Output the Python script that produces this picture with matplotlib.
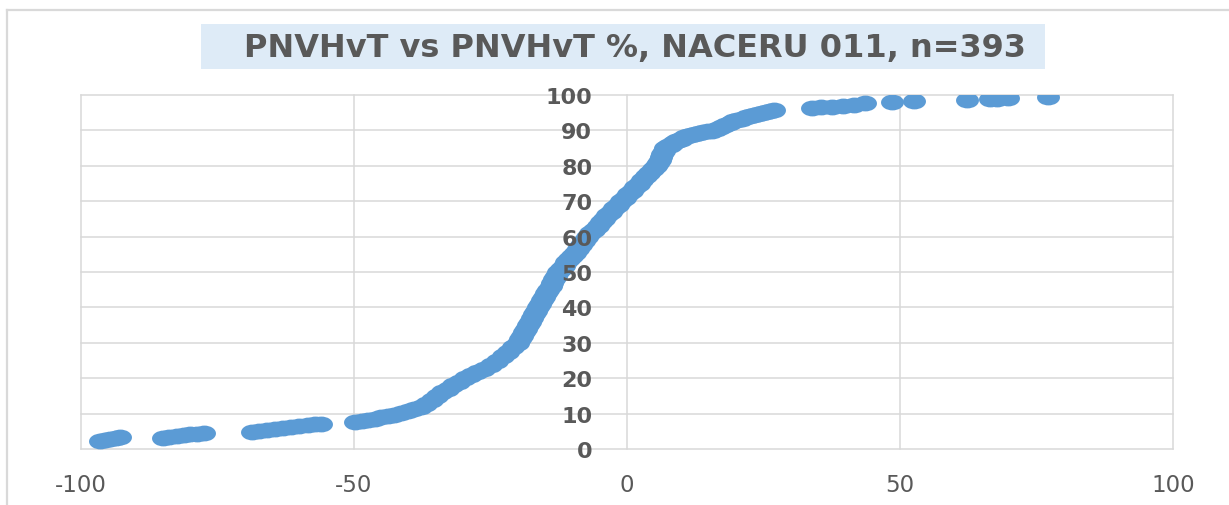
import numpy as np
import matplotlib
matplotlib.use('Agg')
import matplotlib.pyplot as plt
from matplotlib.patches import Rectangle
from matplotlib.lines import Line2D
from matplotlib.path import Path

plt.rcParams['axes.unicode_minus'] = False
plt.rcParams['font.family'] = 'DejaVu Sans'

title = 'PNVHvT vs PNVHvT %, NACERU 011, n=393'
x_ticks = [-100, -50, 0, 50, 100]
y_ticks = [0, 10, 20, 30, 40, 50, 60, 70, 80, 90, 100]

# lower tail
tail_lo_x = [-96.5, -95.6, -94.6, -93.6, -92.8,
             -85.0, -83.8, -82.5, -81.2, -80.0, -78.8, -77.5,
             -68.6, -67.4, -66.0, -64.5, -63.0, -61.5, -60.0, -58.5, -57.2, -56.0]
tail_lo_y = [2.2, 2.5, 2.8, 3.1, 3.3,
             3.1, 3.4, 3.7, 3.9, 4.2, 4.3, 4.4,
             4.8, 5.1, 5.4, 5.6, 5.8, 6.1, 6.4, 6.7, 7.0, 7.2]

# main body of the curve
body_x = [-49.8, -48.6, -47.4, -46.2, -45.0, -43.8, -42.6, -41.4, -40.2, -39.0,
          -37.8, -36.8, -35.8, -34.8, -33.8, -32.8, -31.8, -30.8, -29.7, -28.6,
          -27.4, -26.2, -25.0, -23.8, -22.8, -21.8, -20.8,
          -20.0, -19.6, -19.3, -18.9, -18.5, -18.2, -17.8, -17.4, -17.0, -16.7,
          -16.3, -15.9, -15.6, -15.2, -14.8, -14.4, -14.0, -13.7, -13.3, -13.0,
          -12.6, -12.1, -11.6, -11.1, -10.6, -10.0, -9.5, -8.9, -8.4, -7.8,
          -7.3, -6.7, -6.1, -5.4, -4.8, -4.2, -3.6, -3.0, -2.4, -1.7,
          -1.1, -0.4, 0.2, 0.9, 1.5, 2.2, 2.8, 3.5, 4.1, 4.8,
          5.4, 5.7, 6.0, 6.2, 6.5, 6.8, 7.0, 7.5, 8.0, 8.5,
          9.0, 9.5, 10.0, 10.5, 11.0, 11.7, 12.5, 13.2, 14.0, 14.8,
          15.5, 16.5, 17.2, 18.0, 18.8, 19.5, 20.2, 21.0, 21.8, 22.5,
          23.2, 24.0, 24.8, 25.5, 26.2, 27.0]
body_y = [7.6, 7.9, 8.2, 8.6, 9.0, 9.4, 9.7, 10.1, 10.6, 11.2,
          11.9, 12.7, 13.8, 15.0, 16.0, 17.0, 18.0, 19.0, 20.0, 20.9,
          21.7, 22.6, 23.8, 25.0, 26.2, 27.5, 28.8,
          30.0, 31.0, 32.0, 33.0, 34.0, 35.0, 36.0, 37.0, 38.0, 39.0,
          40.0, 41.0, 42.0, 43.0, 44.0, 45.0, 46.0, 47.0, 48.0, 49.0,
          50.0, 50.9, 51.8, 52.7, 53.6, 54.5, 55.4, 56.4, 57.5, 58.7,
          60.0, 61.0, 62.0, 63.0, 64.0, 65.0, 66.0, 67.0, 68.0, 69.0,
          70.0, 71.0, 72.0, 73.0, 74.0, 75.0, 76.0, 77.0, 78.0, 79.0,
          80.0, 80.8, 81.6, 82.4, 83.3, 84.2, 85.0, 85.5, 86.0, 86.5,
          86.9, 87.3, 87.7, 88.1, 88.4, 88.7, 89.0, 89.3, 89.5, 89.7,
          89.9, 90.4, 90.9, 91.4, 92.0, 92.6, 93.0, 93.3, 93.7, 94.0,
          94.3, 94.6, 94.9, 95.2, 95.5, 95.7]

# upper tail
tail_hi_x = [33.9, 35.5, 37.5, 39.5, 41.5, 43.5, 48.5, 52.6, 62.3, 66.5, 67.8, 69.8, 77.1]
tail_hi_y = [96.3, 96.5, 96.6, 96.8, 97.2, 97.7, 98.0, 98.3, 98.6, 98.8, 99.0, 99.1, 99.4]

xs = tail_lo_x + body_x + tail_hi_x
ys = tail_lo_y + body_y + tail_hi_y

# stretched (elliptical) marker like the picture
circ = Path.unit_circle()
ell = Path(circ.vertices * np.array([1.45, 1.0]), circ.codes)

fig = plt.figure(figsize=(12.29, 5.06), dpi=100)
ax = fig.add_axes([81 / 1229, 56 / 506, 1092 / 1229, 354 / 506])

# gridlines behind the markers
for v in x_ticks:
    ax.axvline(v, color='#d9d9d9', linewidth=1.1, zorder=1, clip_on=False)
for v in y_ticks:
    ax.axhline(v, color='#d9d9d9', linewidth=1.1, zorder=1, clip_on=False)

ax.plot(xs, ys, linestyle='none', marker=ell, markersize=16.5,
        color='#5B9BD5', markeredgewidth=0, zorder=2)

ax.set_xlim(-100, 100)
ax.set_ylim(0, 100)
ax.set_xticks(x_ticks)
ax.set_yticks(y_ticks)

for s in ['top', 'right', 'left', 'bottom']:
    ax.spines[s].set_visible(False)
ax.spines['left'].set_position(('data', 0))
ax.yaxis.set_zorder(5)

ax.tick_params(axis='y', length=0, pad=25, labelsize=16, labelcolor='#595959')
ax.tick_params(axis='x', length=0, pad=17, labelsize=16.5, labelcolor='#595959')
for t in ax.get_yticklabels():
    t.set_fontweight('bold')

# outer chart frame (only top and left are in the picture)
fig.add_artist(Line2D([7 / 1229, 7 / 1229], [0, (506 - 11) / 506],
                      transform=fig.transFigure, color='#d9d9d9', linewidth=1.6))
fig.add_artist(Line2D([7 / 1229, 1], [(506 - 11) / 506, (506 - 11) / 506],
                      transform=fig.transFigure, color='#d9d9d9', linewidth=1.6))

# title box
fig.add_artist(Rectangle((201 / 1229, (506 - 70) / 506), 844 / 1229, 45 / 506,
                         transform=fig.transFigure, facecolor='#DEEBF7',
                         edgecolor='none'))
fig.text(635 / 1229, (506 - 48) / 506, title, ha='center', va='center',
         fontsize=23, fontweight='bold', color='#595959')

fig.savefig('out.png', dpi=100)
